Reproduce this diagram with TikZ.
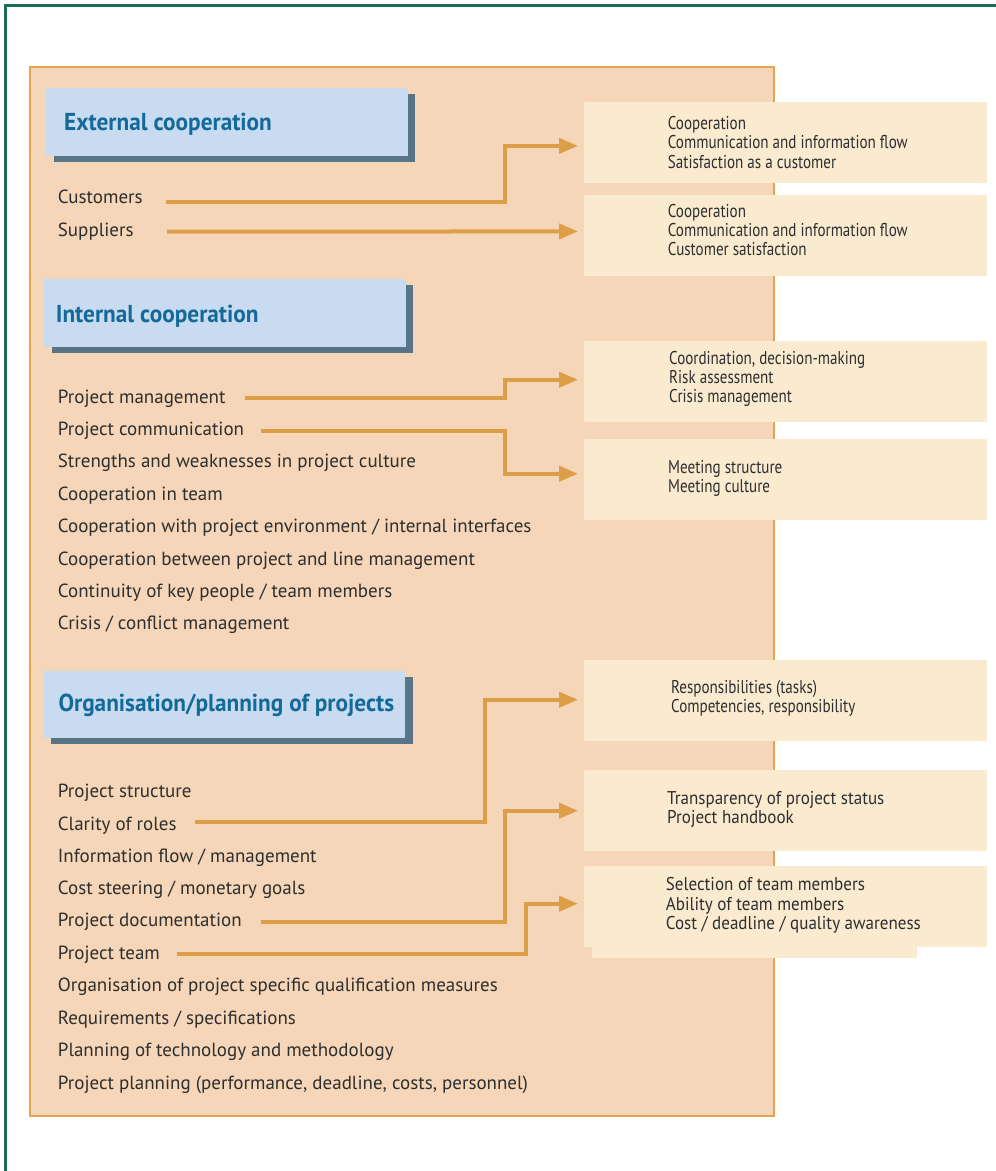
\documentclass[tikz,border=0pt]{standalone}
\usepackage{fontspec}
\usetikzlibrary{arrows.meta,calc,shadows}
\setmainfont{PT Sans}
\newfontfamily\listfont{PT Sans}
\newfontfamily\headfont{PT Sans}[FakeStretch=0.95]
\newfontfamily\boxfont{PT Sans}[FakeStretch=0.815]
\newfontfamily\boxfontwide{PT Sans}[FakeStretch=0.92]

\definecolor{framec}{HTML}{1D6B5B}
\definecolor{panelc}{HTML}{F5D6B8}
\definecolor{panelline}{HTML}{E3A34F}
\definecolor{headc}{HTML}{C9DBF0}
\definecolor{shadowc}{HTML}{587487}
\definecolor{headtext}{HTML}{136A98}
\definecolor{boxc}{HTML}{F9EAD0}
\definecolor{arrc}{HTML}{DC9E47}
\definecolor{textc}{HTML}{2E2E2E}

\tikzset{
  headbox/.style={rectangle, fill=headc, inner sep=0pt, anchor=north west,
    minimum width=361.7pt, minimum height=67.3pt,
    drop shadow={opacity=1, fill=shadowc, shadow xshift=7.5pt, shadow yshift=-6pt}},
  headtxt/.style={anchor=base west, inner sep=0pt, text=headtext,
    font=\headfont\bfseries\fontsize{24.5}{28}\selectfont},
  item/.style={anchor=base west, inner sep=0pt, text=textc,
    font=\listfont\fontsize{19}{22}\selectfont},
  rbox/.style={rectangle, fill=boxc, inner sep=0pt, anchor=north west,
    minimum width=403pt, minimum height=81pt},
  btxt/.style={anchor=base west, inner sep=0pt, text=textc,
    font=\boxfont\fontsize{18.5}{19.4}\selectfont},
  btxtwide/.style={btxt, font=\boxfontwide\fontsize{18.5}{19.6}\selectfont},
  arr/.style={draw=arrc, line width=4pt, line join=miter,
    -{Triangle[length=19pt,width=15pt]}}
}

\newcommand{\lines}[1]{\begin{tabular}[t]{@{}l@{}}#1\end{tabular}}

\begin{document}
\begin{tikzpicture}[x=1pt,y=-1pt]
\useasboundingbox (0,0) rectangle (996,1171);

% outer frame (top and left edges)
\draw[framec, line width=2.6pt] (996,5.5) -- (5.5,5.5) -- (5.5,1171);

% main panel
\draw[fill=panelc, draw=panelline, line width=2pt] (30,67) rectangle (774,1116);

% section headings
\node[headbox] (h1box) at (46,88) {};
\node[headtxt] (h1) at (64,130.7) {External cooperation};
\node[headbox, drop shadow={opacity=1, fill=shadowc, shadow xshift=7.3pt, shadow yshift=-5.7pt}] (h2box) at (44,279) {};
\node[headtxt] (h2) at (55.7,322) {Internal cooperation};
\node[headbox] (h3box) at (43.3,670.7) {};
\node[headtxt] (h3) at (58.3,711.7) {Organisation/planning of projects};

% external cooperation items
\node[item] (cust) at (57.7,203.3) {Customers};
\node[item] (supp) at (57.7,236) {Suppliers};

% internal cooperation items
\node[item] (pm)   at (57.7,403)   {Project management};
\node[item] (pc)   at (57.7,435.5) {Project communication};
\node[item] (sw)   at (57.7,467.6) {Strengths and weaknesses in project culture};
\node[item] (cit)  at (57.7,500.4) {Cooperation in team};
\node[item] (cwe)  at (57.7,532.8) {Cooperation with project environment / internal interfaces};
\node[item] (cbl)  at (57.7,565)   {Cooperation between project and line management};
\node[item] (ckp)  at (57.7,597.2) {Continuity of key people / team members};
\node[item] (ccm)  at (57.7,629.4) {Crisis / conflict management};

% organisation/planning items
\node[item] (ps)   at (57.7,797.3) {Project structure};
\node[item] (cr)   at (57.7,830)   {Clarity of roles};
\node[item] (ifm)  at (57.7,862.3) {Information flow / management};
\node[item] (cs)   at (57.7,894.7) {Cost steering / monetary goals};
\node[item] (pd)   at (57.7,926.7) {Project documentation};
\node[item] (pt)   at (57.7,959.3) {Project team};
\node[item] (opq)  at (57.7,991.7) {Organisation of project specific qualification measures};
\node[item] (rs)   at (57.7,1024)  {Requirements / specifications};
\node[item] (ptm)  at (57.7,1056.4){Planning of technology and methodology};
\node[item] (pp)   at (57.7,1089.3){Project planning (performance, deadline, costs, personnel)};

% result boxes
\node[rbox] (b1) at (584,102) {};
\node[rbox] (b2) at (584,195) {};
\node[rbox] (b3) at (584,341) {};
\node[rbox] (b4) at (584,439) {};
\node[rbox] (b5) at (584,660) {};
\node[rbox] (b6) at (584,770) {};
\fill[boxc] (592,947) rectangle (917,957.5);
\node[rbox] (b7) at (584,866) {};

\node[btxt] (t1) at (667.7,129.3) {\lines{Cooperation\\Communication and information flow\\Satisfaction as a customer}};
\node[btxt] (t2) at (667.7,217)   {\lines{Cooperation\\Communication and information flow\\Customer satisfaction}};
\node[btxt] (t3) at (669,364)     {\lines{Coordination, decision-making\\Risk assessment\\Crisis management}};
\node[btxt] (t4) at (668,473)     {\lines{Meeting structure\\Meeting culture}};
\node[btxt] (t5) at (671,693)     {\lines{Responsibilities (tasks)\\Competencies, responsibility}};
\node[btxtwide] (t6) at (667,804)     {\lines{Transparency of project status\\Project handbook}};
\node[btxtwide] (t7) at (665.7,890.7) {\lines{Selection of team members\\Ability of team members\\Cost / deadline / quality awareness}};

% connectors
\draw[arr] ($(cust.base -| 166,0)+(0,-1.6)$) -| ($(b1.west)+(-79,3.2)$) -- ($(b1.west)+(-6,3.2)$);
\draw[arr] ($(supp.base -| 167,0)+(0,-4.3)$) -- ($(b2.west)+(-6,-4.3)$);
\draw[arr] ($(pm.base -| 245,0)+(0,-5)$) -| ($(b3.west)+(-79,-2)$) -- ($(b3.west)+(-6,-2)$);
\draw[arr] ($(pc.base -| 261,0)+(0,-4.8)$) -| ($(b4.west)+(-79,-6)$) -- ($(b4.west)+(-6,-6)$);
\draw[arr] ($(cr.base -| 195,0)+(0,-7.7)$) -| ($(b5.west)+(-99,-1)$) -- ($(b5.west)+(-6,-1)$);
\draw[arr] ($(pd.base -| 261,0)+(0,-5)$) -| ($(b6.west)+(-79,0)$) -- ($(b6.west)+(-6,0)$);
\draw[arr] ($(pt.base -| 176.7,0)+(0,-5.6)$) -| ($(b7.west)+(-58,-3)$) -- ($(b7.west)+(-6,-3)$);
\end{tikzpicture}
\end{document}
